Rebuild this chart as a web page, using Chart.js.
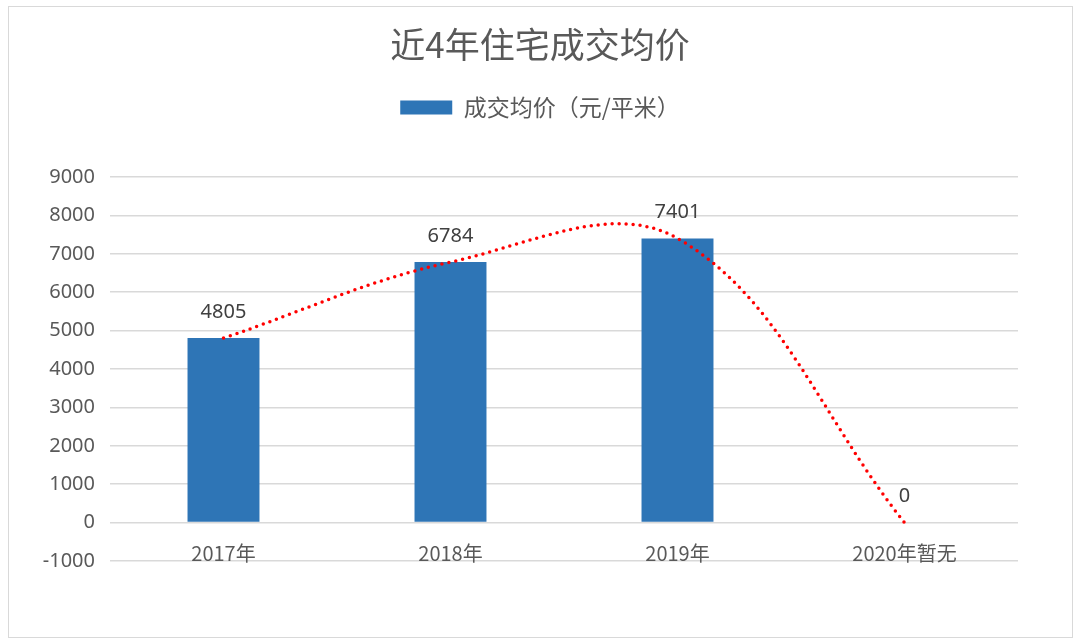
<!DOCTYPE html>
<html><head><meta charset="utf-8">
<script src="https://cdn.jsdelivr.net/npm/chart.js@4/dist/chart.umd.min.js"></script>
<style>
html,body{margin:0;padding:0;background:#fff;}
#wrap{position:relative;width:1080px;height:642px;}
#frame{position:absolute;left:8px;top:6px;width:1063px;height:630px;border:1px solid #d9d9d9;pointer-events:none;}
canvas{position:absolute;left:0;top:0;}
</style></head>
<body>
<div id="wrap"><canvas id="c" width="1080" height="642"></canvas><div id="frame"></div></div>
<script>
const categories = ['2017年', '2018年', '2019年', '2020年暂无'];
const prices = [4805, 6784, 7401, 0];
const seriesName = '成交均价（元/平米）';
const titleText = '近4年住宅成交均价';
const yMin = -1000, yMax = 9000, yStep = 1000;

const FONT = "'Noto Sans CJK SC','Noto Sans',sans-serif";
const NUMFONT = "'Noto Sans','Open Sans',sans-serif";

const legendMargin = {
  id: 'legendMargin',
  beforeInit(chart) {
    const fit = chart.legend.fit;
    chart.legend.fit = function () { fit.bind(chart.legend)(); this.height += 48; };
  }
};

const barLabels = {
  id: 'barLabels',
  afterDatasetsDraw(chart) {
    const ctx = chart.ctx;
    const meta = chart.getDatasetMeta(0);
    ctx.save();
    ctx.font = '20px ' + NUMFONT;
    ctx.fillStyle = '#404040';
    ctx.textAlign = 'center';
    ctx.textBaseline = 'middle';
    meta.data.forEach((bar, i) => {
      ctx.fillText(String(chart.data.datasets[0].data[i]), bar.x, bar.y - 26);
    });
    ctx.restore();
  }
};

new Chart(document.getElementById('c'), {
  type: 'bar',
  data: {
    labels: categories,
    datasets: [
      {
        type: 'bar',
        label: seriesName,
        data: prices,
        backgroundColor: '#2e75b6',
        borderWidth: 0,
        barPercentage: 0.317,
        categoryPercentage: 1,
        order: 2
      },
      {
        type: 'line',
        label: 'trend',
        data: prices,
        borderColor: '#ff0000',
        borderWidth: 3.5,
        borderDash: [0, 7],
        borderCapStyle: 'round',
        pointRadius: 0,
        tension: 0.37,
        fill: false,
        order: 1
      }
    ]
  },
  plugins: [legendMargin, barLabels],
  options: {
    responsive: false,
    animation: false,
    layout: { padding: { top: 20, left: 31, right: 31, bottom: 81 } },
    plugins: {
      tooltip: { enabled: false },
      title: {
        display: true,
        text: titleText,
        color: '#595959',
        font: { family: FONT, size: 35, weight: 'normal' },
        padding: { top: 4, bottom: 20 }
      },
      legend: {
        display: true,
        position: 'top',
        labels: {
          filter: (item) => item.datasetIndex === 0,
          boxWidth: 52,
          boxHeight: 14,
          padding: 10,
          color: '#595959',
          font: { family: FONT, size: 23 }
        }
      }
    },
    scales: {
      x: {
        position: { y: 0 },
        grid: { display: false },
        border: { display: false },
        ticks: {
          color: '#595959',
          font: { family: FONT, size: 20 },
          padding: 11,
          maxRotation: 0
        }
      },
      y: {
        min: yMin,
        max: yMax,
        afterFit(scale) { scale.width = 79; },
        grid: { color: '#d9d9d9', lineWidth: 1.5, drawTicks: false },
        border: { display: false },
        ticks: {
          stepSize: yStep,
          color: '#595959',
          padding: 15,
          font: { family: NUMFONT, size: 20 },
          callback: (v) => String(v)
        }
      },
      yRight: {
        position: 'right',
        min: yMin,
        max: yMax,
        afterFit(scale) { scale.width = 31; },
        grid: { display: false, drawTicks: false },
        border: { display: false },
        ticks: { display: false }
      }
    }
  }
});
</script>
</body></html>
